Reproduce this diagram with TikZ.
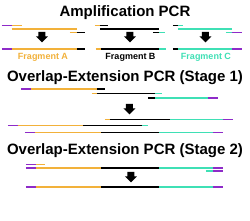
\documentclass[tikz,border=0pt]{standalone}
\usepackage{fontspec}
\setmainfont{Liberation Sans}
\definecolor{yel}{HTML}{F2B13A}
\definecolor{tea}{HTML}{3FE0B5}
\definecolor{pur}{HTML}{8E2BC8}
\newcommand\strand[4]{\draw[#1] (#2,#4) -- (#3,#4);}
\tikzset{
  s/.style={line width=1.8pt},
  Y/.style={s,draw=yel}, K/.style={s,draw=black}, T/.style={s,draw=tea}, P/.style={s,draw=pur},
  ttl/.style={anchor=base,inner sep=0pt,font=\bfseries\fontsize{15}{15}\selectfont},
  lbl/.style={anchor=base,inner sep=0pt,font=\bfseries\fontsize{9}{9}\selectfont},
  dnarrow/.pic={\fill (-3.5,0) -- (3.5,0) -- (3.5,4.5) -- (6,4.5) -- (0,10.5) -- (-6,4.5) -- (-3.5,4.5) -- cycle;}
}
\begin{document}
\begin{tikzpicture}[x=1pt,y=-1pt]
\useasboundingbox[fill=white] (0,0) rectangle (250,221);
% titles
\node[ttl] (t1) at (125,16.5) {Amplification PCR};
\node[ttl] (t2) at (125,82) {Overlap-Extension PCR (Stage 1)};
\node[ttl] (t3) at (125,154.3) {Overlap-Extension PCR (Stage 2)};
% Fragment A
\strand{P}{2}{12}{25.5}\strand{Y}{12}{22}{25.5}
\strand{Y}{12}{77}{29}
\strand{Y}{70}{77}{32.5}\strand{K}{77}{85}{32.5}
\pic at (42,32) {dnarrow};
\strand{P}{2}{12}{49}\strand{Y}{12}{77}{49}\strand{K}{77}{85}{49}
\node[lbl,text=yel] (la) at (43,60) {Fragment A};
% Fragment B
\strand{Y}{95}{100}{25.5}\strand{K}{100}{108}{25.5}
\strand{K}{100}{159}{29}
\strand{K}{153}{159}{32.5}\strand{T}{159}{165}{32.5}
\pic at (130,32) {dnarrow};
\strand{Y}{96}{101}{49}\strand{K}{101}{159}{49}\strand{T}{159}{166}{49}
\node[lbl,text=black] (lb) at (130.5,60) {Fragment B};
% Fragment C
\strand{K}{173}{178}{25.5}\strand{T}{178}{183}{25.5}
\strand{T}{178}{232}{29}
\strand{T}{226}{232}{32.5}\strand{P}{232}{242}{32.5}
\pic at (205.5,32) {dnarrow};
\strand{K}{173}{178}{49}\strand{T}{178}{232}{49}\strand{P}{232}{242}{49}
\node[lbl,text=tea] (lc) at (206,60) {Fragment C};
% Stage 1
\strand{P}{21}{31}{89}\strand{Y}{31}{97}{89}\strand{K}{97}{105}{89}
\strand{Y}{92}{97}{93.5}\strand{K}{97}{155}{93.5}\strand{T}{155}{162}{93.5}
\strand{K}{148}{155}{98}\strand{T}{155}{208}{98}\strand{P}{208}{218}{98}
\pic at (129.5,104) {dnarrow};
\strand{Y}{105}{110}{119.5}\strand{K}{110}{170}{119.5}\strand{T}{170}{223}{119.5}\strand{P}{223}{233}{119.5}
\strand{P}{8}{18}{125.5}\strand{Y}{18}{83}{125.5}\strand{K}{83}{142}{125.5}\strand{T}{142}{148}{125.5}
\strand{P}{25}{35}{132.5}\strand{Y}{35}{101}{132.5}\strand{K}{101}{159}{132.5}\strand{T}{159}{213}{132.5}\strand{P}{213}{223}{132.5}
% Stage 2
\strand{P}{26}{36}{164.5}\strand{Y}{36}{45}{164.5}
\strand{P}{26}{36}{167.7}\strand{Y}{36}{101}{167.7}\strand{K}{101}{159}{167.7}\strand{T}{159}{213}{167.7}\strand{P}{213}{223}{167.7}
\strand{T}{206}{213}{171}\strand{P}{213}{223}{171}
\pic at (131,172) {dnarrow};
\strand{P}{26}{36}{187}\strand{Y}{36}{101}{187}\strand{K}{101}{159}{187}\strand{T}{159}{213}{187}\strand{P}{213}{223}{187}
\end{tikzpicture}
\end{document}
